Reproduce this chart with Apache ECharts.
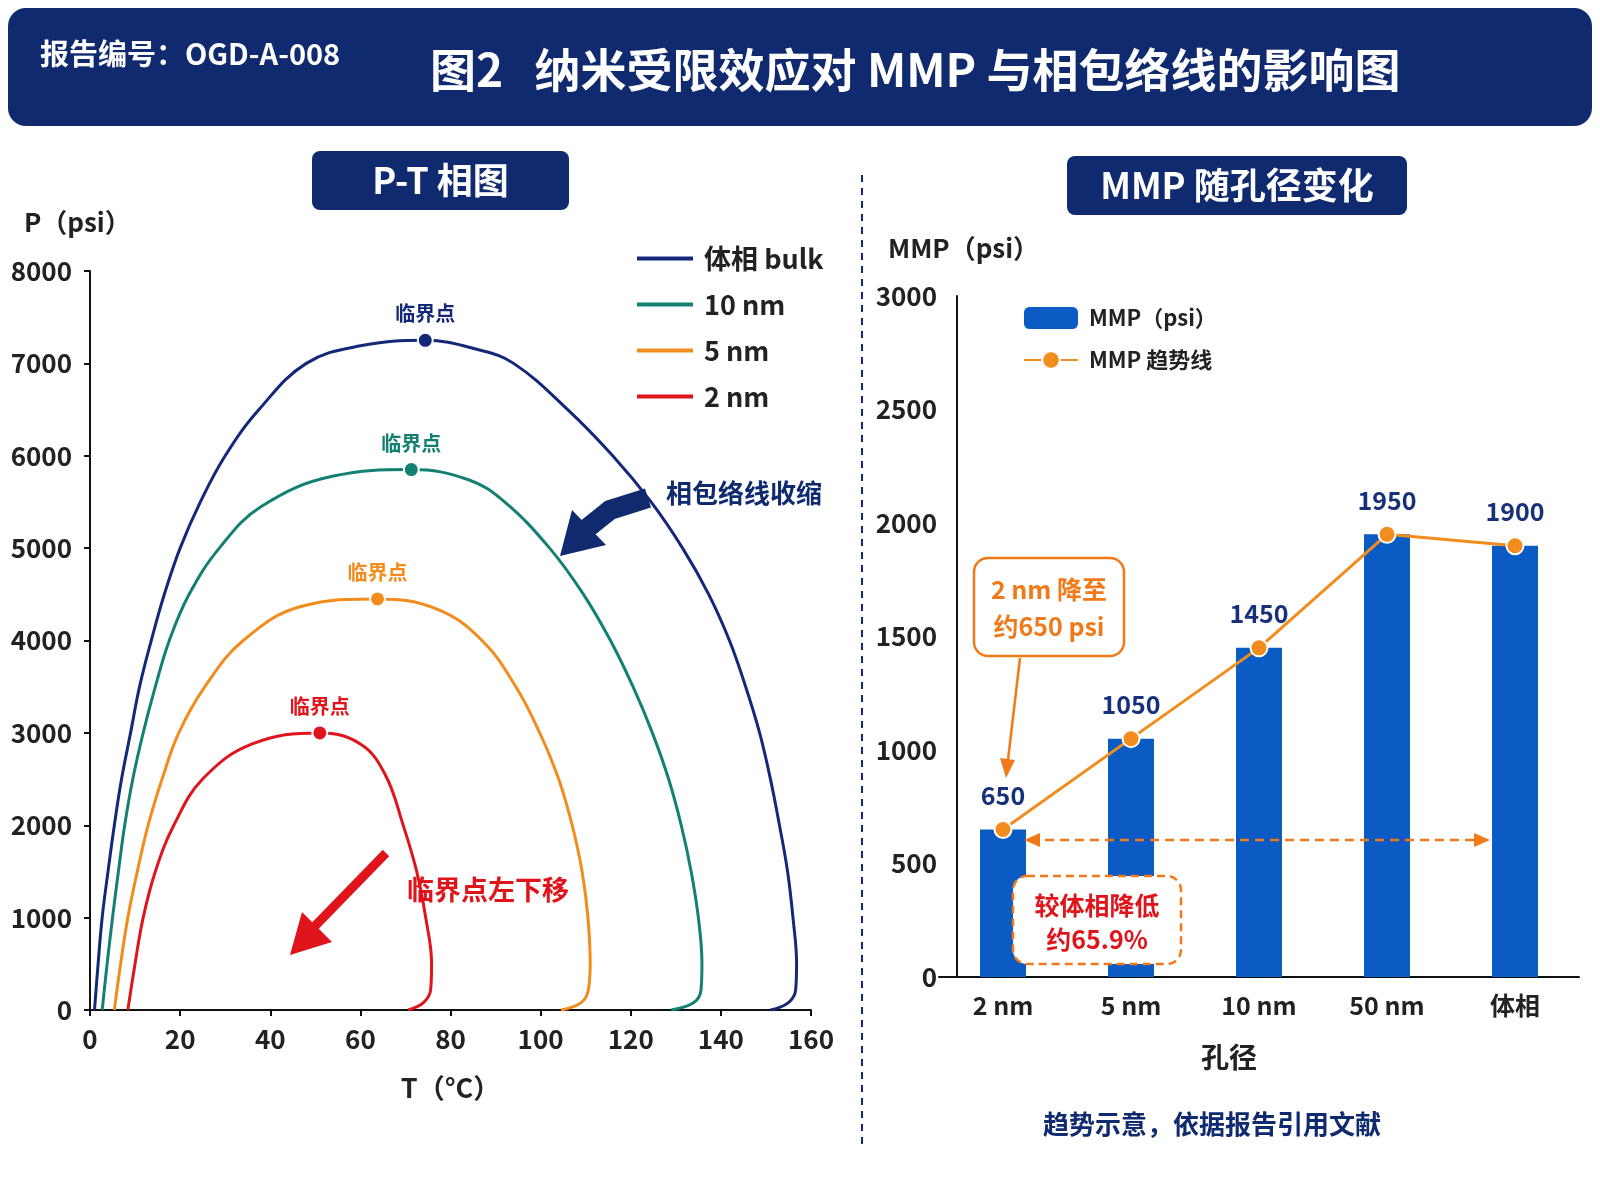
<!DOCTYPE html>
<html><head><meta charset="utf-8">
<script src="https://cdn.jsdelivr.net/npm/echarts@6/dist/echarts.min.js"></script>
<style>html,body{margin:0;background:#fff}#c{width:1600px;height:1200px}</style>
</head><body><div id="c"></div>
<script>
// P-T 相图 envelopes [T, P]
var bulkCurve = [[1,0],[1.8,500],[2.7,1000],[4,1500],[5.4,2000],[7,2500],[9,3000],[11,3500],[13.6,4000],[16.5,4500],[20,5000],[24.5,5500],[30,6000],[37.5,6500],[48,7000],[60,7190],[74.4,7250],[86,7150],[94,7000],[106,6500],[116,6000],[124.5,5500],[131.5,5000],[137.3,4500],[141.9,4000],[145.5,3500],[148.6,3000],[151,2500],[153,2000],[154.8,1500],[156,1000],[156.8,500],[156.6,220],[155,80],[151,0]];
var nm10Curve = [[2.7,0],[3.8,500],[5,1000],[6.3,1500],[7.7,2000],[9.5,2500],[11.8,3000],[14.5,3500],[17.6,4000],[22,4500],[28.7,5000],[38,5450],[54,5780],[71.3,5850],[84,5740],[92,5500],[102,5000],[109.5,4500],[115.5,4000],[120.5,3500],[124.8,3000],[128.4,2500],[131.2,2000],[133.4,1500],[135,1000],[135.8,500],[135.6,220],[134,80],[129,0]];
var nm5Curve = [[5.4,0],[6.8,500],[8.4,1000],[10.5,1500],[12.9,2000],[16,2500],[19.7,3000],[25.5,3500],[34,4000],[47,4370],[63.8,4450],[77,4340],[87,4000],[94.5,3500],[99.8,3000],[104,2500],[107,2000],[109.2,1500],[110.5,1000],[111,500],[110.6,220],[109,80],[104.5,0]];
var nm2Curve = [[8.4,0],[10,500],[11.8,1000],[14.5,1500],[18.6,2000],[25,2500],[36,2880],[51,3000],[60,2880],[65.5,2550],[69.5,2000],[72.5,1500],[74.5,1000],[75.8,500],[75.6,220],[74,80],[70.6,0]];
var criticalPoints = [[74.4,7250],[71.3,5850],[63.8,4450],[51,3000]];
var curveNames = ['体相 bulk','10 nm','5 nm','2 nm'];
var curveColors = ['#14287a','#138072','#f28c1c','#e0151c'];

// MMP 随孔径变化
var poreSizes = ['2 nm','5 nm','10 nm','50 nm','体相'];
var mmpValues = [650,1050,1450,1950,1900];

var chart = echarts.init(document.getElementById('c'));
var font = '"Noto Sans CJK SC","Noto Sans",sans-serif';
var navy = '#0f2a6e';

function curveSeries(i, data) {
    return {
        name: curveNames[i], type: 'line', xAxisIndex: 0, yAxisIndex: 0,
        data: data, smooth: 0.4, showSymbol: false,
        lineStyle: {color: curveColors[i], width: 3}, itemStyle: {color: curveColors[i]},
        markPoint: {
            symbol: 'circle', symbolSize: 15,
            itemStyle: {color: curveColors[i], borderColor: '#fff', borderWidth: 2},
            label: {show: true, position: 'top', formatter: '临界点', color: curveColors[i], fontSize: 20, fontWeight: 'bold', fontFamily: font, distance: 8},
            data: [{coord: criticalPoints[i]}]
        }
    };
}

function box(x, y, w, h, text) {
    return {type: 'group', children: [
        {type: 'rect', shape: {x: x, y: y, width: w, height: h, r: 8}, style: {fill: navy}},
        {type: 'text', x: x + w / 2, y: y + h / 2, style: {text: text, fill: '#fff', font: 'bold 36px ' + font, textAlign: 'center', textVerticalAlign: 'middle'}}
    ]};
}

var plainNum = function (v) { return String(v); };

var option = {
    animation: false,
    textStyle: {fontFamily: font},
    legend: [{
        data: curveNames, orient: 'vertical', left: 632, top: 240, itemGap: 19,
        itemWidth: 56, itemHeight: 4, icon: 'rect',
        textStyle: {fontSize: 27, color: '#222', fontWeight: 'bold', fontFamily: font, padding: [0, 0, 0, 6]}
    }, {
        data: ['MMP（psi）', 'MMP 趋势线'], orient: 'vertical', left: 1018, top: 302, itemGap: 20,
        itemWidth: 54, itemHeight: 22,
        textStyle: {fontSize: 22, color: '#222', fontWeight: 'bold', fontFamily: font, padding: [0, 0, 0, 6]}
    }],
    grid: [
        {left: 90, top: 271, width: 721, height: 739},
        {left: 939, top: 296, width: 640, height: 681}
    ],
    xAxis: [{
        type: 'value', gridIndex: 0, min: 0, max: 160, interval: 20,
        name: 'T（°C）', nameLocation: 'middle', nameGap: 64,
        nameTextStyle: {fontSize: 27, fontWeight: 'bold', color: '#222'},
        axisLine: {lineStyle: {color: '#111', width: 2}},
        axisTick: {show: true, length: 6, lineStyle: {color: '#111', width: 2}},
        axisLabel: {fontSize: 26, fontWeight: 'bold', color: '#222', margin: 16},
        splitLine: {show: false}
    }, {
        type: 'category', gridIndex: 1, data: poreSizes,
        name: '孔径', nameLocation: 'middle', nameGap: 66,
        nameTextStyle: {fontSize: 28, fontWeight: 'bold', color: '#222', padding: [0, 60, 0, 0]},
        axisLine: {lineStyle: {color: '#111', width: 2}},
        axisTick: {show: false},
        axisLabel: {fontSize: 25, fontWeight: 'bold', color: '#222', margin: 16}
    }],
    yAxis: [{
        type: 'value', gridIndex: 0, min: 0, max: 8000, interval: 1000,
        axisLine: {show: true, lineStyle: {color: '#111', width: 2}},
        axisTick: {show: true, length: 6, lineStyle: {color: '#111', width: 2}},
        axisLabel: {fontSize: 26, fontWeight: 'bold', color: '#222', margin: 18, formatter: plainNum},
        splitLine: {show: false}
    }, {
        type: 'value', gridIndex: 1, min: 0, max: 3000, interval: 500, offset: -18,
        axisLine: {show: true, lineStyle: {color: '#111', width: 2}},
        axisTick: {show: false},
        axisLabel: {fontSize: 26, fontWeight: 'bold', color: '#222', margin: 20, formatter: plainNum},
        splitLine: {show: false}
    }],
    series: [
        curveSeries(0, bulkCurve), curveSeries(1, nm10Curve), curveSeries(2, nm5Curve), curveSeries(3, nm2Curve),
        {
            name: 'MMP（psi）', type: 'bar', xAxisIndex: 1, yAxisIndex: 1, data: mmpValues,
            barWidth: 46, itemStyle: {color: '#0a5bc4'}
        },
        {
            name: 'MMP 趋势线', type: 'line', xAxisIndex: 1, yAxisIndex: 1, data: mmpValues,
            symbol: 'circle', symbolSize: 17, z: 5,
            lineStyle: {color: '#f28c1c', width: 3},
            itemStyle: {color: '#f28c1c', borderColor: '#fff', borderWidth: 2},
            label: {show: true, position: 'top', distance: 12, fontSize: 25, fontWeight: 'bold', color: '#16307a'}
        }
    ],
    graphic: [
        {type: 'rect', z: 100, shape: {x: 8, y: 8, width: 1584, height: 118, r: 18}, style: {fill: navy}},
        {type: 'text', z: 100, x: 40, y: 54, style: {text: '报告编号：OGD-A-008', fill: '#fff', font: 'bold 29px ' + font, textVerticalAlign: 'middle'}},
        {type: 'text', z: 100, x: 430, y: 70, style: {text: '图2   纳米受限效应对 MMP 与相包络线的影响图', fill: '#fff', font: 'bold 46px ' + font, textVerticalAlign: 'middle'}},
        box(312, 151, 257, 59, 'P-T 相图'),
        box(1067, 156, 340, 59, 'MMP 随孔径变化'),
        {type: 'line', shape: {x1: 862, y1: 175, x2: 862, y2: 1150}, style: {stroke: navy, lineWidth: 2, lineDash: [7, 6]}},
        {type: 'text', x: 24, y: 222, style: {text: 'P（psi）', fill: '#222', font: 'bold 26px ' + font, textVerticalAlign: 'middle'}},
        {type: 'text', x: 888, y: 248, style: {text: 'MMP（psi）', fill: '#222', font: 'bold 26px ' + font, textVerticalAlign: 'middle'}},
        // envelope shrink arrow
        {type: 'polyline', shape: {points: [[648, 498], [610, 510], [585, 530]]}, style: {stroke: navy, lineWidth: 20, fill: null}},
        {type: 'polygon', shape: {points: [[560, 556], [572, 510], [606, 545]]}, style: {fill: navy}},
        {type: 'text', x: 666, y: 493, style: {text: '相包络线收缩', fill: navy, font: 'bold 26px ' + font, textVerticalAlign: 'middle'}},
        // critical point shift arrow
        {type: 'line', shape: {x1: 386, y1: 853, x2: 315, y2: 926}, style: {stroke: '#e0151c', lineWidth: 9}},
        {type: 'polygon', shape: {points: [[290, 955], [302, 912], [332, 942]]}, style: {fill: '#e0151c'}},
        {type: 'text', x: 407, y: 890, style: {text: '临界点左下移', fill: '#e0151c', font: 'bold 27px ' + font, textVerticalAlign: 'middle'}},
        // callout 2 nm
        {type: 'rect', z: 100, shape: {x: 974, y: 558, width: 150, height: 98, r: 14}, style: {fill: '#fff', stroke: '#f07a1a', lineWidth: 2.5}},
        {type: 'text', z: 100, x: 1049, y: 589, style: {text: '2 nm 降至', fill: '#f07a1a', font: 'bold 25px ' + font, textAlign: 'center', textVerticalAlign: 'middle'}},
        {type: 'text', z: 100, x: 1049, y: 626, style: {text: '约650 psi', fill: '#f07a1a', font: 'bold 25px ' + font, textAlign: 'center', textVerticalAlign: 'middle'}},
        {type: 'line', z: 100, shape: {x1: 1020, y1: 658, x2: 1008, y2: 760}, style: {stroke: '#f07a1a', lineWidth: 2.5}},
        {type: 'polygon', z: 100, shape: {points: [[1006, 778], [1000, 758], [1015, 760]]}, style: {fill: '#f07a1a'}},
        // dashed comparison arrow
        {type: 'line', z: 100, shape: {x1: 1030, y1: 840, x2: 1480, y2: 840}, style: {stroke: '#f07a1a', lineWidth: 2.5, lineDash: [9, 6]}},
        {type: 'polygon', z: 100, shape: {points: [[1024, 840], [1040, 833], [1040, 847]]}, style: {fill: '#f07a1a'}},
        {type: 'polygon', z: 100, shape: {points: [[1490, 840], [1474, 833], [1474, 847]]}, style: {fill: '#f07a1a'}},
        {type: 'rect', z: 100, shape: {x: 1013, y: 876, width: 168, height: 88, r: 14}, style: {fill: '#fff', stroke: '#f07a1a', lineWidth: 2.5, lineDash: [8, 5]}},
        {type: 'text', z: 100, x: 1097, y: 905, style: {text: '较体相降低', fill: '#e0151c', font: 'bold 25px ' + font, textAlign: 'center', textVerticalAlign: 'middle'}},
        {type: 'text', z: 100, x: 1097, y: 939, style: {text: '约65.9%', fill: '#e0151c', font: 'bold 25px ' + font, textAlign: 'center', textVerticalAlign: 'middle'}},
        {type: 'text', x: 1212, y: 1124, style: {text: '趋势示意，依据报告引用文献', fill: navy, font: 'bold 26px ' + font, textAlign: 'center', textVerticalAlign: 'middle'}}
    ]
};
chart.setOption(option);
</script>
</body></html>
